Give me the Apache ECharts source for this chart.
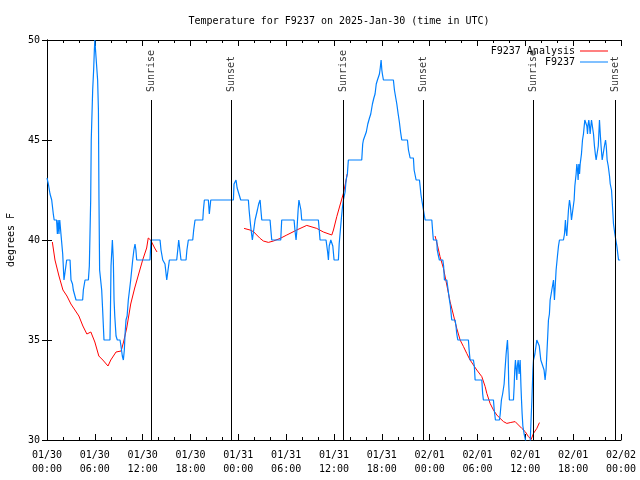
<!DOCTYPE html>
<html>
<head>
<meta charset="utf-8">
<script src="https://cdn.jsdelivr.net/npm/echarts/dist/echarts.min.js"></script>
<style>html,body{margin:0;padding:0;background:#fff}#c{width:640px;height:480px}</style>
</head>
<body>
<div id="c"></div>
<script>
// Hours since 2025-01-30 00:00 UTC
var xTickDates = ['01/30','01/30','01/30','01/30','01/31','01/31','01/31','01/31','02/01','02/01','02/01','02/01','02/02'];
var xTickTimes = ['00:00','06:00','12:00','18:00','00:00','06:00','12:00','18:00','00:00','06:00','12:00','18:00','00:00'];
var yTicks = [30, 35, 40, 45, 50];

var eventNames = ['Sunrise','Sunset','Sunrise','Sunset','Sunrise','Sunset'];
var eventHours = [13.05, 23.1, 37.15, 47.18, 61.05, 71.28];

// Observations F9237: [hour, degF]
var obsHours = [0,0.17,0.38,0.59,0.79,0.9,1.2,1.3,1.4,1.5,1.6,1.75,1.84,1.97,2.13,2.3,2.47,2.89,3.01,3.2,3.3,3.64,4.47,4.56,4.77,5.19,5.31,5.48,5.55,5.73,5.85,5.94,6.0,6.25,6.35,6.45,6.52,6.6,6.86,6.98,7.15,7.9,7.95,8.03,8.2,8.32,8.41,8.5,8.66,8.82,9.16,9.28,9.45,9.58,9.7,9.79,9.91,10.05,10.2,10.35,10.5,10.75,10.9,11.04,11.15,11.25,12.92,13.05,14.18,14.3,14.52,14.8,15.02,15.2,15.35,16.27,16.4,16.52,16.7,16.81,17.44,17.55,17.73,18.28,18.4,18.57,19.54,19.62,19.74,20.24,20.36,20.45,20.54,23.38,23.46,23.71,23.85,24,24.15,24.3,25.26,25.35,25.47,25.6,25.76,26,26.1,26.25,26.39,26.55,26.73,26.83,26.94,27.98,28.08,28.19,29.32,29.44,30.99,31.1,31.24,31.35,31.5,31.6,31.74,31.85,31.95,34.04,34.15,34.25,35,35.1,35.2,35.3,35.4,35.6,35.72,35.85,36.01,36.55,36.65,36.8,36.93,37.05,37.18,37.39,37.52,37.68,37.8,39.48,39.6,39.69,39.86,40.05,40.24,40.45,40.61,40.82,41,41.15,41.3,41.45,41.7,41.8,41.91,42,42.07,42.2,43.45,43.58,43.75,43.88,44.05,44.2,44.35,44.5,45.21,45.34,45.55,45.96,46.05,46.15,46.3,46.72,46.8,46.9,47.01,47.22,47.43,48.27,48.4,48.47,48.89,48.95,49.05,49.22,49.65,49.75,49.85,50.15,50.25,50.48,50.6,50.77,51.19,51.3,51.4,51.53,52.86,52.95,53.07,53.49,53.6,53.7,54.54,54.65,54.74,56,56.1,56.25,56.75,56.85,57,57.15,57.34,57.45,57.59,57.68,57.76,57.84,57.92,58,58.51,58.6,58.67,58.76,58.85,58.93,59,59.1,59.22,59.35,59.45,59.52,59.6,59.69,59.85,60.02,60.3,60.6,60.69,60.82,60.95,61.02,61.2,61.44,61.65,61.75,61.94,62.19,62.35,62.48,62.6,62.7,62.82,62.9,63.02,63.11,63.24,63.32,63.45,63.53,63.65,63.75,63.86,64.03,64.16,64.28,64.78,64.91,65.03,65.1,65.2,65.33,65.41,65.54,65.65,65.79,66.04,66.12,66.21,66.37,66.46,66.55,66.62,66.71,66.8,66.88,67.04,67.17,67.29,67.46,67.63,67.72,67.8,67.88,67.96,68.05,68.13,68.22,68.3,68.46,68.55,68.67,68.78,68.88,69.05,69.15,69.22,69.3,69.4,69.5,69.64,69.81,69.92,70.06,70.15,70.26,70.4,70.56,70.65,70.81,70.93,71.06,71.23,71.35,71.48,71.69,71.9];
var obsTemps = [43.1,42.8,42.3,42,41.3,41,41,40.3,41,40.3,41,40.3,40.3,39.3,38,38.5,39,39,38,37.8,37.5,37,37,37.5,38,38,38.7,42,45,47.5,48.5,49.5,50,50,48,46.5,42,38.5,37.5,36.5,35,35,36.2,38.7,40,39,37,36.2,35.2,35,35,34.7,34.2,34,34.5,35.3,36,36.2,37,37.5,38,39,39.5,39.8,39.5,39,39,40,40,39.5,39,38.8,38,38,39,39,39.5,40,40,39,39,39.5,40,40,40.5,41,41,41.5,42,42,41.3,41.3,42,42,42.8,43,42.6,42.5,42.2,42,42,41.5,41,40.5,40,40,41,41,41.5,41.8,42,41.5,41,41,40.5,40,40,41,41,40.5,40,40.5,41.5,42,42,41.5,41,41,40.5,40,40,39.7,39.4,39,39.7,40,40,39.7,39,39,39.8,40.5,41.1,41.6,42,42.4,43,43.3,44,44,44.8,45,45,45.4,45.8,46.1,46.3,46.8,47.1,47.3,47.8,48,48.3,48.6,49,48.5,48.3,48,48,47.5,47.1,46.8,46.3,45.9,45.4,45,45,44.5,44.1,44.1,43.5,43.3,43,43,42.7,42.3,42,42,41,41,40.3,40,40,39.5,39.3,39,39,38.7,38,38,37.7,37,36.7,36,36,35.7,35.3,35,35,34.5,34,34,33.7,33,33,32.3,32,32,31.5,31,31,31.3,32,32.3,32.8,33.5,34.3,34.7,35,34.3,32.8,32,32,32.7,33.5,34,33.5,33,33.7,34,33.3,34,32.7,32,31.3,30.7,30.3,30,29.5,29.8,30.7,32,33.5,34,34.3,35,35,34.7,34,34,33.5,33,33.5,34.3,35.3,36,36.3,37,37.3,37.5,37.8,38,37,37.7,38.5,39.2,39.7,40,40,40.3,41,40.5,40.2,41,41.5,42,41.7,41,41,42,42.7,43.3,43.8,43.5,43,43.8,43.3,43.8,44.3,45,45.3,46,46,45.7,45.3,45.8,46,45.7,45.3,45.7,46,46,45.3,44.7,44.3,44,44,44.7,45.3,46,45.3,44.7,44,44,44.7,45,44.7,44,43.7,43.2,42.8,42.5,41.7,40.8,40.3,40,39.7,39,39];

// Analysis F9237: [hour, degF], null marks a gap
var anaHours = [0.67,1,1.5,2,2.5,3,3.5,4,4.5,5,5.5,6,6.5,7,7.65,8,8.66,9.3,9.6,10,10.5,11,11.5,12,12.5,12.7,13,13.5,13.8,null,24.72,25.47,25.89,26.31,26.73,27.14,27.77,28.41,29.25,30.08,31.33,32.58,33.83,34.67,35.72,35.93,36.35,36.76,37.18,37.52,37.65,null,48.68,49,49.3,49.73,50.15,50.56,50.98,51.4,51.82,52.24,52.65,53.07,53.49,53.91,54.54,54.96,55.17,55.58,56,56.42,56.84,57.26,57.68,58.1,58.72,59.14,59.56,59.98,60.39,60.73,61.02,61.44,61.77];
var anaTemps = [39.9,39,38.2,37.5,37.2,36.8,36.5,36.2,35.7,35.3,35.4,34.9,34.2,34,33.7,34,34.4,34.45,34.9,35.6,36.8,37.6,38.3,39,39.6,40.1,40,39.6,39.4,null,40.58,40.5,40.42,40.25,40.08,39.95,39.88,39.95,40.08,40.25,40.5,40.73,40.58,40.4,40.25,40.5,41.17,41.75,42.33,43,43.3,null,40.2,39.7,39.17,38.58,37.75,36.92,36.25,35.58,35,34.67,34.33,34,33.75,33.5,33.17,32.67,32.33,31.83,31.5,31.25,31.08,30.92,30.83,30.87,30.92,30.75,30.58,30.42,30.17,30.03,30.33,30.58,30.87];

var FONT = '"DejaVu Sans Mono", "Liberation Mono", monospace';
var anaData = anaHours.map(function (x, i) { return x === null ? '-' : [x, anaTemps[i]]; });
var obsData = obsHours.map(function (x, i) { return [x, obsTemps[i]]; });
var evLabels = eventHours.map(function (h, i) { return [h, 47, eventNames[i]]; });
var evLines = eventHours.map(function (h) { return [{ coord: [h, 30] }, { coord: [h, 47] }]; });

var chart = echarts.init(document.getElementById('c'), null, { renderer: 'canvas' });
var axisCommon = {
  type: 'value', min: 0, max: 72, interval: 6,
  axisLine: { show: true, lineStyle: { color: '#000', width: 1 } },
  axisTick: { show: true, inside: true, length: 6, lineStyle: { color: '#000' } },
  minorTick: { show: true, splitNumber: 3, length: 3, lineStyle: { color: '#000' } },
  splitLine: { show: false }
};
var yCommon = {
  type: 'value', min: 30, max: 50, interval: 5,
  axisLine: { show: true, lineStyle: { color: '#000', width: 1 } },
  axisTick: { show: true, inside: true, length: 5, lineStyle: { color: '#000' } },
  splitLine: { show: false }
};
chart.setOption({
  animation: false,
  backgroundColor: '#fff',
  title: {
    text: 'Temperature for F9237 on 2025-Jan-30 (time in UTC)',
    left: 334, top: 11, textAlign: 'center',
    textStyle: { fontFamily: FONT, fontSize: 10, fontWeight: 'normal', color: '#000' }
  },
  legend: {
    orient: 'vertical', right: 27, top: 41, align: 'right',
    itemWidth: 28, itemHeight: 12, itemGap: 1,
    textStyle: { fontFamily: FONT, fontSize: 10, color: '#000' },
    data: [
      { name: 'F9237 Analysis', icon: 'path://M0,5 L28,5 L28,6 L0,6 Z' },
      { name: 'F9237', icon: 'path://M0,5 L28,5 L28,6 L0,6 Z' }
    ]
  },
  grid: { left: 47, right: 19, top: 40, bottom: 40, containLabel: false, outerBoundsMode: 'none' },
  xAxis: [
    Object.assign({}, axisCommon, {
      position: 'bottom',
      axisLabel: {
        show: true, margin: 8, fontFamily: FONT, fontSize: 10, color: '#000', lineHeight: 14,
        formatter: function (v) { var i = Math.round(v / 6); return xTickDates[i] + '\n' + xTickTimes[i]; }
      }
    }),
    Object.assign({}, axisCommon, { position: 'top', axisLabel: { show: false } })
  ],
  yAxis: [
    Object.assign({}, yCommon, {
      position: 'left',
      name: 'degrees F', nameLocation: 'middle', nameGap: 31, nameRotate: 90,
      nameTextStyle: { fontFamily: FONT, fontSize: 10, color: '#000' },
      axisLabel: { show: true, margin: 7, fontFamily: FONT, fontSize: 10, color: '#000',
        formatter: function (v) { return yTicks.indexOf(v) >= 0 ? String(v) : ''; } }
    }),
    Object.assign({}, yCommon, { position: 'right', axisLabel: { show: false } })
  ],
  series: [
    {
      name: 'F9237 Analysis', type: 'line', data: anaData, showSymbol: false, symbol: 'none',
      connectNulls: false, lineStyle: { color: '#ff0000', width: 1 }, itemStyle: { color: '#ff0000' }, z: 2
    },
    {
      name: 'F9237', type: 'line', data: obsData, showSymbol: false, symbol: 'none',
      lineStyle: { color: '#0080ff', width: 1.2 }, itemStyle: { color: '#0080ff' }, z: 3
    },
    {
      name: 'events', type: 'scatter', data: evLabels, symbolSize: 0, silent: true, z: 4,
      label: {
        show: true, position: 'top', distance: 8, rotate: 90, align: 'left', verticalAlign: 'middle',
        fontFamily: FONT, fontSize: 10, color: '#000',
        formatter: function (p) { return p.data[2]; }
      },
      markLine: {
        silent: true, symbol: ['none', 'none'], animation: false,
        label: { show: false },
        lineStyle: { color: '#000', width: 1, type: 'solid' },
        data: evLines
      }
    }
  ]
});
</script>
</body>
</html>
